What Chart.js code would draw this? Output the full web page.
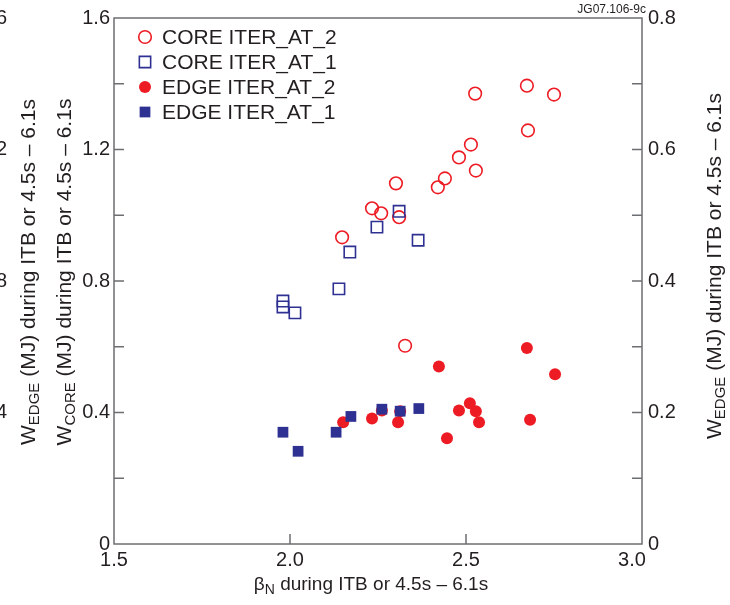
<!DOCTYPE html>
<html>
<head>
<meta charset="utf-8">
<script src="https://cdn.jsdelivr.net/npm/chart.js@4.4.1/dist/chart.umd.min.js"></script>
<style>
  html, body { margin: 0; padding: 0; background: #fff; }
  #wrap { width: 730px; height: 605px; }
</style>
</head>
<body>
<div id="wrap"><canvas id="c" width="730" height="605"></canvas></div>
<script>
// --- data --- //
const coreAt2X = [2.148, 2.233, 2.259, 2.301, 2.310, 2.327, 2.420, 2.440, 2.480, 2.514, 2.526, 2.528, 2.673, 2.676, 2.750];
const coreAt2Y = [0.933, 1.021, 1.006, 1.097, 0.994, 0.603, 1.085, 1.112, 1.176, 1.215, 1.370, 1.136, 1.394, 1.258, 1.367];

const coreAt1X = [1.980, 1.980, 2.014, 2.139, 2.170, 2.247, 2.310, 2.364];
const coreAt1Y = [0.739, 0.721, 0.703, 0.776, 0.888, 0.964, 1.012, 0.924];

const edgeAt2X = [2.151, 2.233, 2.261, 2.307, 2.313, 2.423, 2.446, 2.480, 2.511, 2.528, 2.537, 2.673, 2.682, 2.753];
const edgeAt2Y = [0.185, 0.191, 0.203, 0.185, 0.202, 0.270, 0.161, 0.203, 0.214, 0.202, 0.185, 0.298, 0.189, 0.258];

const edgeAt1X = [1.980, 2.023, 2.131, 2.173, 2.261, 2.313, 2.366];
const edgeAt1Y = [0.170, 0.141, 0.170, 0.194, 0.205, 0.202, 0.206];

// tick values
const xTicks = [1.5, 2.0, 2.5, 3.0];
const xTickLabels = ["1.5", "2.0", "2.5", "3.0\u2002\u2002"];
const leftTicks = [0, 0.4, 0.8, 1.2, 1.6];
const leftMinor = [0.2, 0.4, 0.6, 0.8, 1.0, 1.2, 1.4];
const rightTicks = [0, 0.2, 0.4, 0.6, 0.8];
const rightMinor = [0.1, 0.2, 0.3, 0.4, 0.5, 0.6, 0.7];
const ghostLabels = ["1.6", "1.2", "0.8", "0.4"];

const RED = "#ed1c24";
const BLUE = "#2e3192";
const AXIS = "#6d6e71";
const TEXT = "#231f20";
const FONT = "'Liberation Sans', Arial, Helvetica, sans-serif";

function pts(xs, ys) {
  return xs.map((x, i) => ({ x: x, y: ys[i] }));
}

const datasets = [
  { label: "CORE ITER_AT_2", data: pts(coreAt2X, coreAt2Y), yAxisID: "y",
    pointStyle: "circle", pointRadius: 6.3, borderColor: RED, backgroundColor: "rgba(0,0,0,0)",
    borderWidth: 1.6, order: 3 },
  { label: "CORE ITER_AT_1", data: pts(coreAt1X, coreAt1Y), yAxisID: "y",
    pointStyle: "rect", pointRadius: 8, borderColor: BLUE, backgroundColor: "rgba(0,0,0,0)",
    borderWidth: 1.6, order: 2 },
  { label: "EDGE ITER_AT_2", data: pts(edgeAt2X, edgeAt2Y), yAxisID: "y2",
    pointStyle: "circle", pointRadius: 6, borderColor: RED, backgroundColor: RED,
    borderWidth: 0, order: 1 },
  { label: "EDGE ITER_AT_1", data: pts(edgeAt1X, edgeAt1Y), yAxisID: "y2",
    pointStyle: "rect", pointRadius: 7.6, borderColor: BLUE, backgroundColor: BLUE,
    borderWidth: 0, order: 0 }
];

// text with a subscript part, rotated or not
function drawSubText(ctx, x, y, parts, rotate, size, subSize) {
  ctx.save();
  ctx.translate(x, y);
  if (rotate) ctx.rotate(-Math.PI / 2);
  const fontOf = p => (p.sub ? subSize : size) + "px " + FONT;
  let total = 0;
  parts.forEach(p => {
    ctx.font = fontOf(p);
    total += ctx.measureText(p.t).width;
  });
  let cx = -total / 2;
  ctx.textBaseline = "alphabetic";
  ctx.textAlign = "left";
  ctx.fillStyle = TEXT;
  parts.forEach(p => {
    ctx.font = fontOf(p);
    ctx.fillText(p.t, cx, p.sub ? 4 : 0);
    cx += ctx.measureText(p.t).width;
  });
  ctx.restore();
}

const decor = {
  id: "decor",
  beforeDatasetsDraw(chart) {
    const ctx = chart.ctx;
    const a = chart.chartArea;
    const sx = chart.scales.x, sy = chart.scales.y, sy2 = chart.scales.y2;
    ctx.save();
    ctx.strokeStyle = AXIS;
    ctx.lineWidth = 1.5;
    ctx.strokeRect(a.left, a.top, a.right - a.left, a.bottom - a.top);
    ctx.beginPath();
    leftMinor.forEach(v => {
      const p = sy.getPixelForValue(v);
      ctx.moveTo(a.left, p); ctx.lineTo(a.left + 10, p);
    });
    rightMinor.forEach(v => {
      const p = sy2.getPixelForValue(v);
      ctx.moveTo(a.right, p); ctx.lineTo(a.right - 10, p);
    });
    xTicks.slice(1, -1).forEach(v => {
      const p = sx.getPixelForValue(v);
      ctx.moveTo(p, a.bottom); ctx.lineTo(p, a.bottom - 10);
    });
    ctx.stroke();
    ctx.restore();
  },
  afterDraw(chart) {
    const ctx = chart.ctx;
    const sy = chart.scales.y;
    ctx.save();
    // cut-off labels of a neighbouring axis at the left edge
    ctx.fillStyle = TEXT;
    ctx.font = "20px " + FONT;
    ctx.textAlign = "right";
    ctx.textBaseline = "middle";
    ghostLabels.forEach(t => {
      ctx.fillText(t, 7, sy.getPixelForValue(parseFloat(t)));
    });
    // figure id
    ctx.font = "12px " + FONT;
    ctx.textBaseline = "alphabetic";
    ctx.fillText("JG07.106-9c", 646, 13);
    ctx.restore();

    const tail = " (MJ) during ITB or 4.5s \u2013 6.1s";
    drawSubText(ctx, 35, 272, [{ t: "W" }, { t: "EDGE", sub: true }, { t: tail }], true, 21, 15);
    drawSubText(ctx, 71, 272, [{ t: "W" }, { t: "CORE", sub: true }, { t: tail }], true, 21, 15);
    drawSubText(ctx, 721, 266, [{ t: "W" }, { t: "EDGE", sub: true }, { t: tail }], true, 21, 15);
    drawSubText(ctx, 371, 590, [{ t: "\u03b2" }, { t: "N", sub: true }, { t: " during ITB or 4.5s \u2013 6.1s" }], false, 19, 14);

    // legend inside the plot
    const rows = [37, 62, 87, 112];
    datasets.forEach((d, i) => {
      const y = rows[i];
      ctx.save();
      ctx.strokeStyle = d.borderColor;
      ctx.fillStyle = d.backgroundColor;
      ctx.lineWidth = d.borderWidth || 1;
      Chart.helpers.drawPoint(ctx, { pointStyle: d.pointStyle, radius: d.pointRadius, borderWidth: d.borderWidth }, 145, y);
      ctx.restore();
      ctx.save();
      ctx.fillStyle = TEXT;
      ctx.font = "21px " + FONT;
      ctx.textBaseline = "middle";
      ctx.textAlign = "left";
      ctx.fillText(d.label, 162, y + 1);
      ctx.restore();
    });
  }
};

const tickFont = { family: FONT, size: 20 };

new Chart(document.getElementById("c"), {
  type: "scatter",
  data: { datasets: datasets },
  plugins: [decor],
  options: {
    responsive: false,
    animation: false,
    devicePixelRatio: 1,
    layout: { padding: { top: 16, left: 0, right: 0, bottom: 0 } },
    plugins: { legend: { display: false }, tooltip: { enabled: false } },
    scales: {
      x: {
        type: "linear", min: 1.5, max: 3.0,
        grid: { display: false, drawTicks: false },
        border: { display: false },
        afterBuildTicks: s => { s.ticks = xTicks.map(v => ({ value: v })); },
        ticks: {
          font: tickFont, color: TEXT, padding: 4, maxRotation: 0, autoSkip: false,
          callback: (v) => xTickLabels[xTicks.indexOf(v)]
        },
        afterFit: s => { s.height = 61; }
      },
      y: {
        type: "linear", position: "left", min: 0, max: 1.6,
        grid: { display: false, drawTicks: false },
        border: { display: false },
        afterBuildTicks: s => { s.ticks = leftTicks.map(v => ({ value: v })); },
        ticks: {
          font: tickFont, color: TEXT, padding: 4,
          callback: v => (v === 0 ? "0" : v.toFixed(1))
        },
        afterFit: s => { s.width = 114; }
      },
      y2: {
        type: "linear", position: "right", min: 0, max: 0.8,
        grid: { display: false, drawTicks: false },
        border: { display: false },
        afterBuildTicks: s => { s.ticks = rightTicks.map(v => ({ value: v })); },
        ticks: {
          font: tickFont, color: TEXT, padding: 6,
          callback: v => (v === 0 ? "0" : v.toFixed(1))
        },
        afterFit: s => { s.width = 88; }
      }
    }
  }
});
</script>
</body>
</html>
